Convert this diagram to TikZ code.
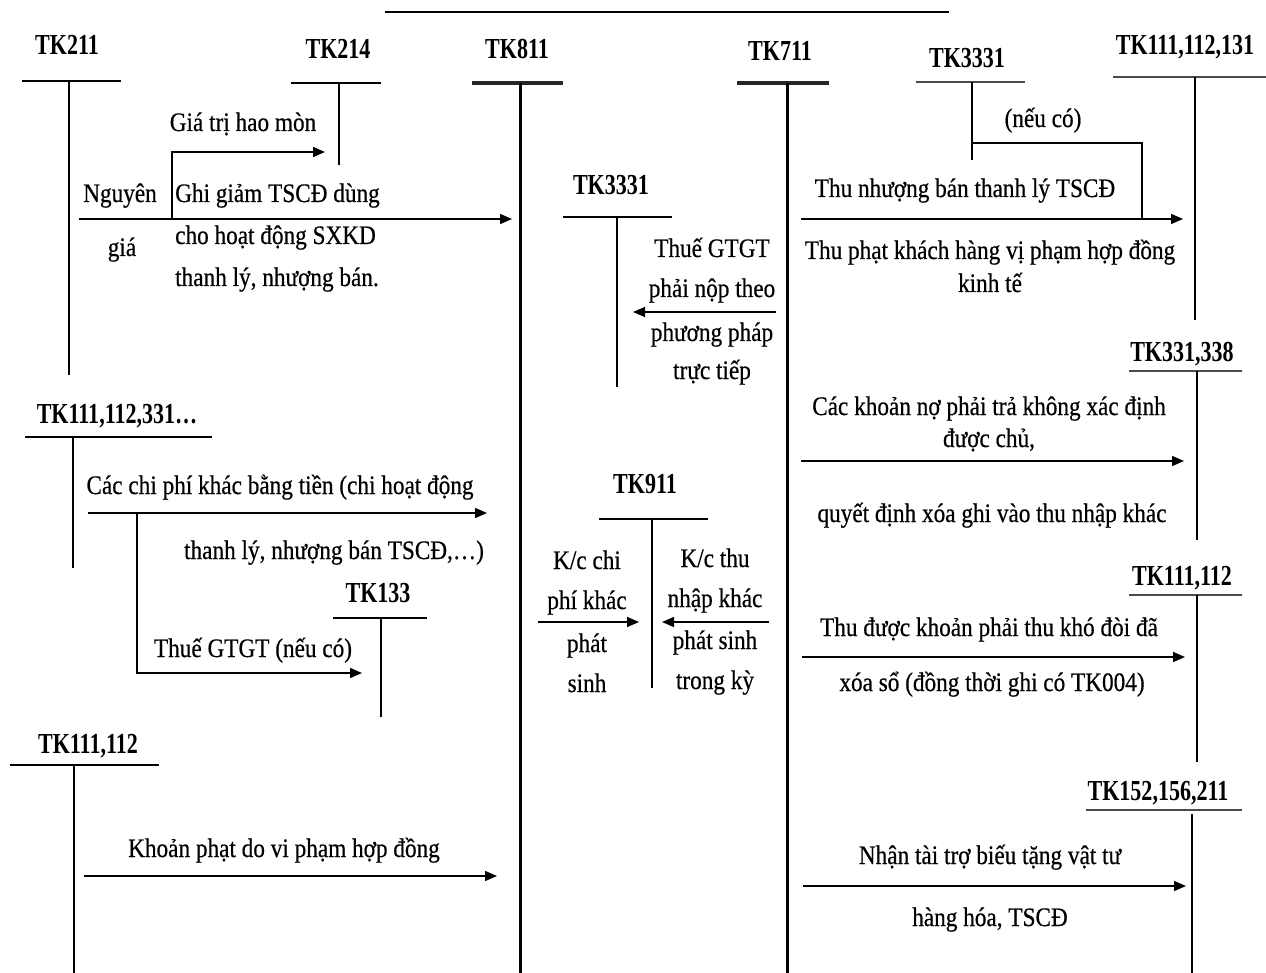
\documentclass[tikz,border=0pt]{standalone}
\usepackage{fontspec}
\setmainfont{Liberation Serif}[FakeStretch=0.87,FakeBold=0.5]
\newfontfamily\tkfont{Liberation Serif}[FakeStretch=0.76]
\usetikzlibrary{arrows.meta}
\begin{document}
\begin{tikzpicture}[x=1pt,y=-1pt,
  txt/.style={anchor=base,inner sep=0pt,font=\fontsize{26.7}{32}\selectfont},
  tk/.style={anchor=base,inner sep=0pt,font=\tkfont\bfseries\fontsize{29}{34}\selectfont},
  rule/.style={line width=1.6pt},
  heavy/.style={line width=3pt},
  heavybar/.style={line width=3.6pt,black!85},
  shade/.style={line width=2.6pt,black!70},
  flow/.style={line width=1.6pt,-{Triangle[length=12pt,width=10pt]}},
]
\useasboundingbox (0,0) rectangle (1266,973);

% heading rule
\coordinate (hw) at (385,12); \coordinate (he) at (949,12);
\draw[line width=2.4pt] (hw) -- (he);

% ---------- T-accounts ----------
% TK211
\node[tk] (n211) at (67,55) {TK211};
\coordinate (n211w) at (22,81); \coordinate (n211e) at (121,81);
\coordinate (n211t) at (69,81); \coordinate (n211b) at (69,375);
\draw[rule] (n211w) -- (n211e); \draw[rule] (n211t) -- (n211b);
% TK214
\node[tk] (n214) at (338,59) {TK214};
\coordinate (n214w) at (291,83); \coordinate (n214e) at (381,83);
\coordinate (n214t) at (339,83); \coordinate (n214b) at (339,165);
\draw[rule] (n214w) -- (n214e); \draw[rule] (n214t) -- (n214b);
% TK811
\node[tk] (n811) at (517,59) {TK811};
\coordinate (n811w) at (472,83); \coordinate (n811e) at (563,83);
\coordinate (n811t) at (520,83); \coordinate (n811b) at (520,973);
\draw[heavybar] (n811w) -- (n811e); \draw[heavy] (n811t) -- (n811b);
% TK711
\node[tk] (n711) at (780,61) {TK711};
\coordinate (n711w) at (737,83); \coordinate (n711e) at (829,83);
\coordinate (n711t) at (787,83); \coordinate (n711b) at (787,973);
\draw[heavybar] (n711w) -- (n711e); \draw[heavy] (n711t) -- (n711b);
% TK3331 (upper)
\node[tk] (n3331a) at (967,68) {TK3331};
\coordinate (n3331aw) at (916,82); \coordinate (n3331ae) at (1025,82);
\coordinate (n3331at) at (972,82); \coordinate (n3331ab) at (972,160);
\draw[shade] (n3331aw) -- (n3331ae); \draw[rule] (n3331at) -- (n3331ab);
% TK111,112,131
\node[tk] (n1111) at (1185,55) {TK111,112,131};
\coordinate (n1111w) at (1113,77); \coordinate (n1111e) at (1266,77);
\coordinate (n1111t) at (1195,77); \coordinate (n1111b) at (1195,320);
\draw[shade] (n1111w) -- (n1111e); \draw[rule] (n1111t) -- (n1111b);
% TK3331 (middle)
\node[tk] (n3331b) at (611,195) {TK3331};
\coordinate (n3331bw) at (563,217); \coordinate (n3331be) at (672,217);
\coordinate (n3331bt) at (617,217); \coordinate (n3331bb) at (617,387);
\draw[rule] (n3331bw) -- (n3331be); \draw[rule] (n3331bt) -- (n3331bb);
% TK111,112,331...
\node[tk] (n1112) at (117,423) {TK111,112,331…};
\coordinate (n1112w) at (25,437); \coordinate (n1112e) at (212,437);
\coordinate (n1112t) at (73,437); \coordinate (n1112b) at (73,568);
\draw[rule] (n1112w) -- (n1112e); \draw[rule] (n1112t) -- (n1112b);
% TK331,338
\node[tk] (n331) at (1182,362) {TK331,338};
\coordinate (n331w) at (1129,371); \coordinate (n331e) at (1242,371);
\coordinate (n331t) at (1197,371); \coordinate (n331b) at (1197,540);
\draw[shade] (n331w) -- (n331e); \draw[rule] (n331t) -- (n331b);
% TK911
\node[tk] (n911) at (645,493) {TK911};
\coordinate (n911w) at (599,519); \coordinate (n911e) at (708,519);
\coordinate (n911t) at (652,519); \coordinate (n911b) at (652,688);
\draw[rule] (n911w) -- (n911e); \draw[rule] (n911t) -- (n911b);
% TK133
\node[tk] (n133) at (378,602) {TK133};
\coordinate (n133w) at (333,618); \coordinate (n133e) at (427,618);
\coordinate (n133t) at (381,618); \coordinate (n133b) at (381,717);
\draw[rule] (n133w) -- (n133e); \draw[rule] (n133t) -- (n133b);
% TK111,112 (right)
\node[tk] (n1113) at (1182,585) {TK111,112};
\coordinate (n1113w) at (1129,595); \coordinate (n1113e) at (1242,595);
\coordinate (n1113t) at (1197,595); \coordinate (n1113b) at (1197,762);
\draw[shade] (n1113w) -- (n1113e); \draw[rule] (n1113t) -- (n1113b);
% TK111,112 (left)
\node[tk] (n1114) at (88,753) {TK111,112};
\coordinate (n1114w) at (10,765); \coordinate (n1114e) at (159,765);
\coordinate (n1114t) at (74,765); \coordinate (n1114b) at (74,973);
\draw[rule] (n1114w) -- (n1114e); \draw[rule] (n1114t) -- (n1114b);
% TK152,156,211
\node[tk] (n152) at (1158,800) {TK152,156,211};
\coordinate (n152w) at (1086,810); \coordinate (n152e) at (1242,810);
\coordinate (n152t) at (1192,814); \coordinate (n152b) at (1192,973);
\draw[shade] (n152w) -- (n152e); \draw[rule] (n152t) -- (n152b);

% ---------- entries ----------
% disposal of fixed assets
\coordinate (f1s) at (79,219); \coordinate (f1e) at (512,219);
\coordinate (f1k) at (172,219); \coordinate (f1u) at (172,152); \coordinate (f1h) at (325,152);
\draw[flow] (f1s) -- (f1e);
\draw[flow] (f1k) -- (f1u) -- (f1h);
\node[txt] (t1) at (243,131) {Giá trị hao mòn};
\node[txt] (t2) at (120,202) {Nguyên};
\node[txt] (t3) at (122,256) {giá};
\node[txt,anchor=base west] (t4) at (175,202) {Ghi giảm TSCĐ dùng};
\node[txt,anchor=base west] (t5) at (175,244) {cho hoạt động SXKD};
\node[txt,anchor=base west] (t6) at (175,286) {thanh lý, nhượng bán.};

% proceeds from disposal
\coordinate (f2s) at (801,219); \coordinate (f2e) at (1183,219);
\coordinate (f2a) at (972,143); \coordinate (f2b) at (1142,143); \coordinate (f2c) at (1142,219);
\draw[flow] (f2s) -- (f2e);
\draw[rule] (f2a) -- (f2b) -- (f2c);
\node[txt] (t7) at (1043,127) {(nếu có)};
\node[txt] (t8) at (965,197) {Thu nhượng bán thanh lý TSCĐ};
\node[txt] (t9) at (990,259) {Thu phạt khách hàng vị phạm hợp đồng};
\node[txt] (t10) at (990,292) {kinh tế};

% VAT, direct method
\coordinate (f3s) at (776,312); \coordinate (f3e) at (633,312);
\draw[flow] (f3s) -- (f3e);
\node[txt] (t11) at (712,257) {Thuế GTGT};
\node[txt] (t12) at (712,297) {phải nộp theo};
\node[txt] (t13) at (712,341) {phương pháp};
\node[txt] (t14) at (712,379) {trực tiếp};

% payables written off
\coordinate (f4s) at (801,461); \coordinate (f4e) at (1184,461);
\draw[flow] (f4s) -- (f4e);
\node[txt] (t15) at (989,415) {Các khoản nợ phải trả không xác định};
\node[txt] (t16) at (989,447) {được chủ,};
\node[txt] (t17) at (992,522) {quyết định xóa ghi vào thu nhập khác};

% other cash expenses
\coordinate (f5s) at (88,513); \coordinate (f5e) at (487,513);
\coordinate (f5k) at (137,513); \coordinate (f5d) at (137,673); \coordinate (f5h) at (362,673);
\draw[flow] (f5s) -- (f5e);
\draw[flow] (f5k) -- (f5d) -- (f5h);
\node[txt] (t18) at (280,494) {Các chi phí khác bằng tiền (chi hoạt động};
\node[txt] (t19) at (334,559) {thanh lý, nhượng bán TSCĐ,…)};
\node[txt] (t20) at (253,657) {Thuế GTGT (nếu có)};

% closing entries to TK911
\coordinate (f6s) at (538,622); \coordinate (f6e) at (639,622);
\coordinate (f7s) at (769,622); \coordinate (f7e) at (662,622);
\draw[flow] (f6s) -- (f6e);
\draw[flow] (f7s) -- (f7e);
\node[txt] (t21) at (587,569) {K/c chi};
\node[txt] (t22) at (587,609) {phí khác};
\node[txt] (t23) at (587,652) {phát};
\node[txt] (t24) at (587,692) {sinh};
\node[txt] (t25) at (715,567) {K/c thu};
\node[txt] (t26) at (715,607) {nhập khác};
\node[txt] (t27) at (715,649) {phát sinh};
\node[txt] (t28) at (715,689) {trong kỳ};

% bad debts recovered
\coordinate (f8s) at (802,657); \coordinate (f8e) at (1185,657);
\draw[flow] (f8s) -- (f8e);
\node[txt] (t29) at (989,636) {Thu được khoản phải thu khó đòi đã};
\node[txt] (t30) at (992,691) {xóa sổ (đồng thời ghi có TK004)};

% contract penalties
\coordinate (f9s) at (84,876); \coordinate (f9e) at (497,876);
\draw[flow] (f9s) -- (f9e);
\node[txt] (t31) at (284,857) {Khoản phạt do vi phạm hợp đồng};

% donations received
\coordinate (f10s) at (803,886); \coordinate (f10e) at (1186,886);
\draw[flow] (f10s) -- (f10e);
\node[txt] (t32) at (990,864) {Nhận tài trợ biếu tặng vật tư};
\node[txt] (t33) at (990,926) {hàng hóa, TSCĐ};
\end{tikzpicture}
\end{document}
